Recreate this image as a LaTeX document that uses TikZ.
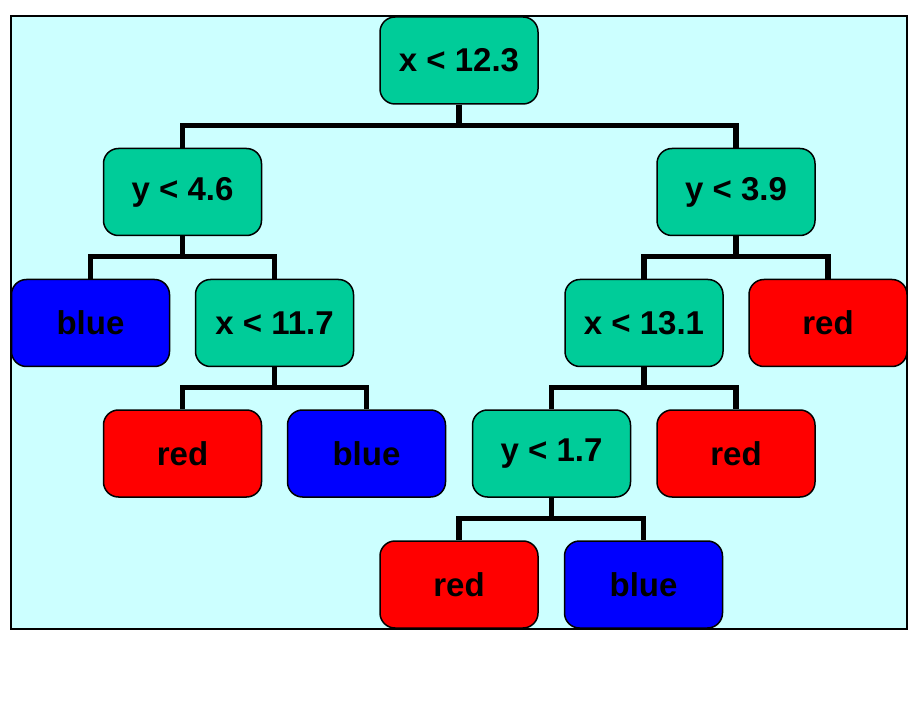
\documentclass[tikz,border=0pt]{standalone}
\usepackage{fontspec}
\setmainfont{Liberation Sans}
\definecolor{bgcyan}{RGB}{204,255,255}
\definecolor{tgreen}{RGB}{0,204,153}
\definecolor{tblue}{RGB}{0,0,255}
\definecolor{tred}{RGB}{255,0,0}
\tikzset{
  box/.style={draw=black, line width=1.5pt, rounded corners=15pt, minimum width=158pt, minimum height=87pt, inner sep=0pt,
    font=\fontsize{33}{38}\selectfont\bfseries, text=black},
  test/.style={box, fill=tgreen},
  leafb/.style={box, fill=tblue},
  leafr/.style={box, fill=tred},
  conn/.style={line width=5.5pt, line join=miter, line cap=butt},
}
\begin{document}
\begin{tikzpicture}[x=1pt, y=-1pt]
\useasboundingbox (0,0) rectangle (916,719);
\draw[line width=2pt, fill=bgcyan] (10.5,16.5) rectangle (907,629);
\node[test] (r) at (459,60.5) {x < 12.3};
\node[test] (a) at (182.5,192) {y < 4.6};
\node[test] (b) at (736,192) {y < 3.9};
\node[leafb] (a1) at (90.5,323) {blue};
\node[test] (a2) at (274.5,323) {x < 11.7};
\node[test] (b1) at (644,323) {x < 13.1};
\node[leafr] (b2) at (828,323) {red};
\node[leafr] (a21) at (182.5,453.5) {red};
\node[leafb] (a22) at (366.5,453.5) {blue};
\node[test] (b11) at (551.5,453.5) {y < 1.7};
\node[leafr] (b12) at (736,453.5) {red};
\node[leafr] (b111) at (459,584.5) {red};
\node[leafb] (b112) at (643.5,584.5) {blue};
\foreach \p/\c in {r/a, r/b, a/a1, a/a2, b/b1, b/b2, a2/a21, a2/a22, b1/b11, b1/b12, b11/b111, b11/b112}{
  \draw[conn] (\p.south) |- ([yshift=22pt]\c.north) -- (\c.north);
}
\end{tikzpicture}
\end{document}
